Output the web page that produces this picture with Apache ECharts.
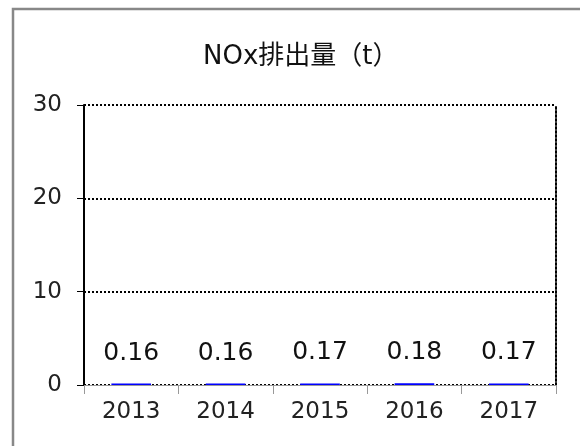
<!DOCTYPE html>
<html>
<head>
<meta charset="utf-8">
<script src="https://cdn.jsdelivr.net/npm/echarts@6/dist/echarts.min.js"></script>
<style>
  html, body { margin: 0; padding: 0; background: #fff; }
  #chart { width: 580px; height: 446px; }
</style>
</head>
<body>
<div id="chart"></div>
<script>
const years = ["2013", "2014", "2015", "2016", "2017"];
const noxValues = [0.16, 0.16, 0.17, 0.18, 0.17];
const yTicks = [0, 10, 20, 30];

const font = "'DejaVu Sans', 'Noto Sans CJK JP', sans-serif";
const chart = echarts.init(document.getElementById("chart"), null, { renderer: "canvas" });

chart.setOption({
    animation: false,
    backgroundColor: "#fff",
    title: {
        text: "NOx排出量（t）",
        left: 198,
        top: 39,
        textStyle: { fontFamily: font, fontWeight: "normal", fontSize: 26, color: "#111" }
    },
    graphic: [
        {
            type: "rect",
            shape: { x: 13, y: 9, width: 600, height: 500 },
            style: { fill: null, stroke: "#888", lineWidth: 2.5 }
        }
    ],
    grid: { left: 84, right: 24, top: 105, bottom: 61 },
    xAxis: {
        type: "category",
        data: years,
        axisLine: { show: true, lineStyle: { color: "#999", width: 1 } },
        axisTick: { show: true, length: 9, lineStyle: { color: "#999" } },
        axisLabel: { fontFamily: font, fontSize: 23, color: "#222", margin: 16 }
    },
    yAxis: [
        {
            type: "value",
            min: yTicks[0],
            max: yTicks[yTicks.length - 1],
            interval: 10,
            axisLine: { show: true, lineStyle: { color: "#000", width: 2 } },
            axisTick: { show: true, length: 7, lineStyle: { color: "#000" } },
            axisLabel: { fontFamily: font, fontSize: 23, color: "#222", margin: 22 },
            splitLine: { show: true, lineStyle: { color: "#000", type: "dotted", width: 2 } }
        },
        {
            type: "value",
            position: "right",
            min: 0,
            max: 30,
            interval: 10,
            axisLine: { show: true, lineStyle: { color: "#000", type: "dotted", width: 2 } },
            axisTick: { show: false },
            axisLabel: { show: false },
            splitLine: { show: false }
        }
    ],
    series: [
        {
            name: "NOx",
            type: "bar",
            data: noxValues,
            barWidth: "42%",
            itemStyle: { color: "#0000ff" },
            label: {
                show: true,
                position: "top",
                distance: 18,
                fontFamily: font,
                fontSize: 25,
                color: "#111"
            }
        }
    ]
});
</script>
</body>
</html>
